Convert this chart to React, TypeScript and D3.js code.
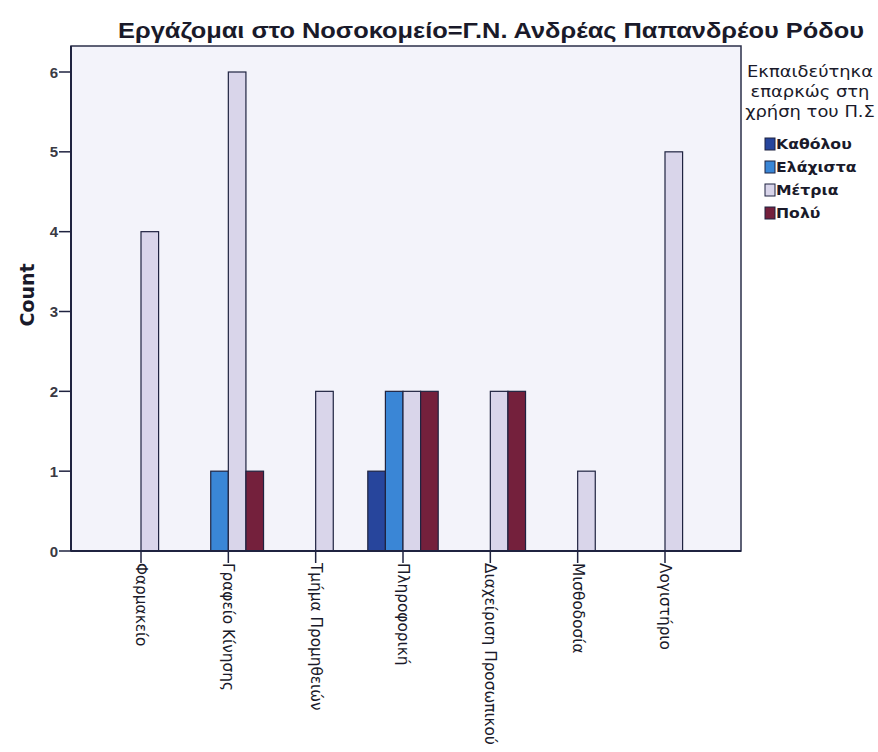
import React from "react";
import * as d3 from "d3";

const title = "Εργάζομαι στο Νοσοκομείο=Γ.Ν. Ανδρέας Παπανδρέου Ρόδου";
const categories = [
  "Φαρμακείο",
  "Γραφείο Κίνησης",
  "Τμήμα Προμηθειών",
  "Πληροφορική",
  "Διαχείριση Προσωπικού",
  "Μισθοδοσία",
  "Λογιστήριο",
];
const seriesNames = ["Καθόλου", "Ελάχιστα", "Μέτρια", "Πολύ"];
const seriesColors = ["#27459c", "#3a86d6", "#d9d5ea", "#74203c"];
const kathoLou = [0, 0, 0, 1, 0, 0, 0];
const elachista = [0, 1, 0, 2, 0, 0, 0];
const metria = [4, 6, 2, 2, 2, 1, 5];
const poly = [0, 1, 0, 2, 2, 0, 0];
const seriesValues = [kathoLou, elachista, metria, poly];
const yTicks = [0, 1, 2, 3, 4, 5, 6];
const legendTitle = ["Εκπαιδεύτηκα", "επαρκώς στη", "χρήση του Π.Σ"];

export default function App() {
  const W = 878, H = 752;
  const left = 71, right = 741, top = 46, bottom = 551;
  const y = d3.scaleLinear().domain([0, 6]).range([bottom, 72]);
  const x = d3.scalePoint<string>().domain(categories).range([141, 665]);
  const bw = 17.6;
  const font = "Arial, 'Liberation Sans', sans-serif";
  const wide = "'DejaVu Sans', Verdana, sans-serif";
  const stroke = "#1f2340";

  return (
    <div style={{ position: "absolute", left: 0, top: 0 }}>
      <svg width={W} height={H} style={{ display: "block", background: "#fff" }}>
        <text
          x={118}
          y={38}
          textLength={746}
          lengthAdjust="spacingAndGlyphs"
          fontFamily={font}
          fontWeight="bold"
          fontSize={22}
          fill="#1a1a2a"
        >
          {title}
        </text>
        <rect x={left} y={top} width={right - left} height={bottom - top} fill="#f3f3fa" stroke="#2b2f4a" strokeWidth={1.5} />
        {seriesValues.map((vals, k) =>
          vals.map((v, i) =>
            v > 0 ? (
              <rect
                key={`${k}-${i}`}
                x={(x(categories[i]) as number) + (k - 2) * bw}
                y={y(v)}
                width={bw}
                height={y(0) - y(v)}
                fill={seriesColors[k]}
                stroke={stroke}
                strokeWidth={1.2}
              />
            ) : null
          )
        )}
        {/* y axis */}
        <line x1={left} x2={left} y1={top} y2={bottom} stroke={stroke} strokeWidth={2} />
        {yTicks.map((t) => (
          <g key={t}>
            <line x1={left - 12} x2={left} y1={y(t)} y2={y(t)} stroke={stroke} strokeWidth={1.5} />
            <text x={left - 13} y={y(t) + 5.5} textAnchor="end" fontFamily={font} fontWeight="bold" fontSize={15} fill="#3a3a44">
              {t}
            </text>
          </g>
        ))}
        <text
          transform={`translate(34,295) rotate(-90)`}
          textAnchor="middle"
          fontFamily={wide}
          fontWeight="bold"
          fontSize={19}
          fill="#1a1a2a"
        >
          Count
        </text>
        {/* x axis */}
        <line x1={left} x2={right} y1={bottom} y2={bottom} stroke={stroke} strokeWidth={2} />
        {categories.map((c) => (
          <g key={c}>
            <line x1={x(c)} x2={x(c)} y1={bottom} y2={bottom + 12} stroke={stroke} strokeWidth={1.5} />
            <text
              transform={`translate(${(x(c) as number) - 5},${bottom + 12}) rotate(90)`}
              textAnchor="start"
              fontFamily={wide}
              fontSize={15.3}
              fill="#1a1a2a"
            >
              {c}
            </text>
          </g>
        ))}
        {/* legend */}
        {legendTitle.map((l, i) => (
          <text
            key={l}
            transform={`translate(810,${77 + i * 20}) scale(1.12,1)`}
            textAnchor="middle"
            fontFamily={wide}
            fontSize={16}
            fill="#1a1a2a"
          >
            {l}
          </text>
        ))}
        {seriesNames.map((s, k) => (
          <g key={s}>
            <rect x={765} y={138 + k * 23} width={10} height={12} fill={seriesColors[k]} stroke={stroke} strokeWidth={1} />
            <text
              transform={`translate(776,${149 + k * 23}) scale(1.12,1)`}
              fontFamily={wide}
              fontWeight="bold"
              fontSize={14}
              fill="#1a1a2a"
            >
              {s}
            </text>
          </g>
        ))}
      </svg>
    </div>
  );
}
